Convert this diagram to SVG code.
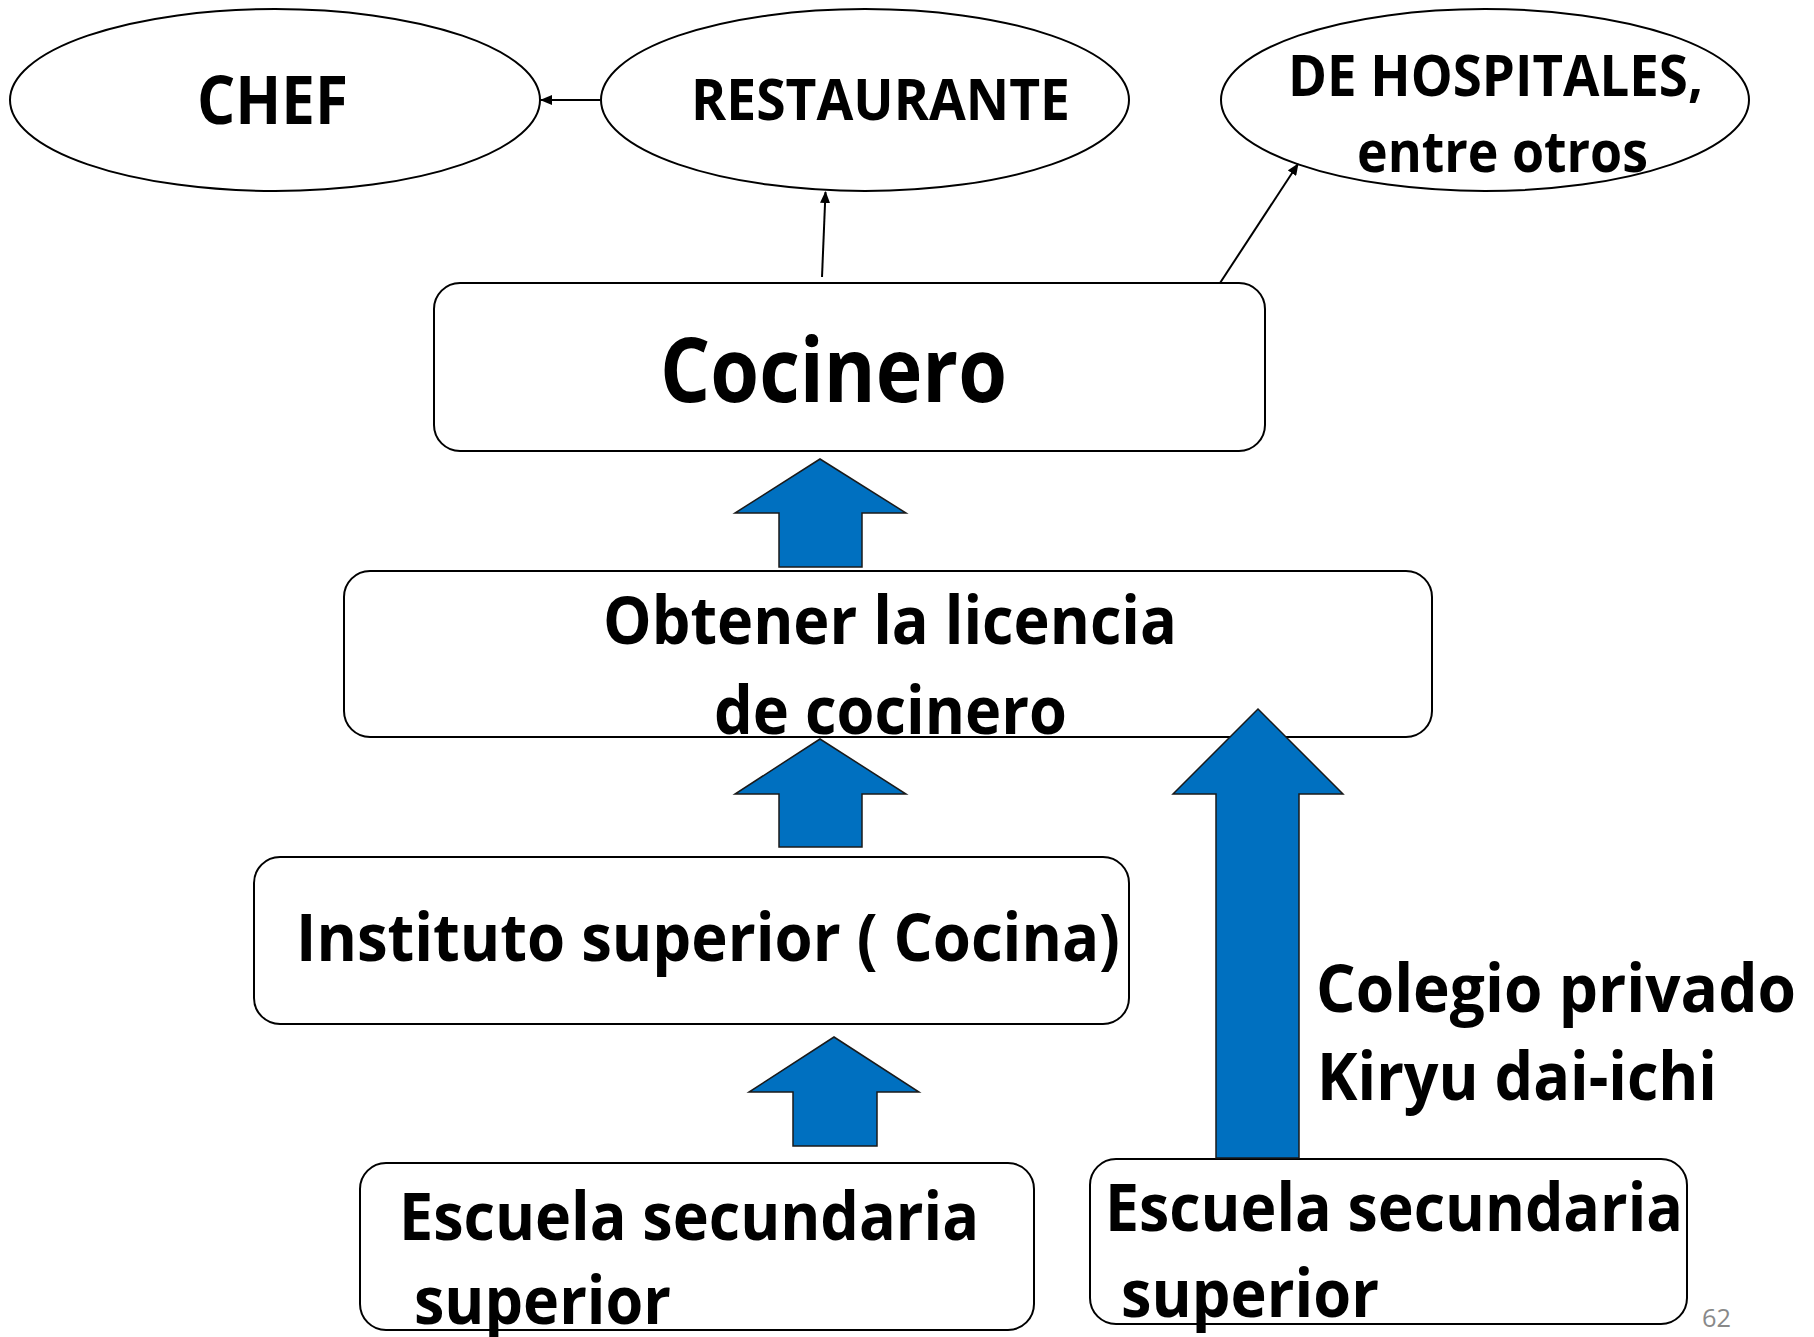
<svg xmlns="http://www.w3.org/2000/svg" width="1814" height="1337" viewBox="0 0 1814 1337">
<style>
.node{fill:#fff;stroke:#000;stroke-width:2}
.t{font-family:"Open Sans","Liberation Sans",sans-serif;font-weight:700;fill:#000}
.blk{fill:#0070C0;stroke:#1a1a1a;stroke-width:1.5}
.con{stroke:#000;stroke-width:2;fill:none}
</style>
<defs>
<marker id="ah" viewBox="0 0 12 10" refX="11" refY="5" markerWidth="12" markerHeight="10" markerUnits="userSpaceOnUse" orient="auto">
<path d="M0,0 L12,5 L0,10 z" fill="#000"/>
</marker>
</defs>
<rect width="1814" height="1337" fill="#fff"/>
<g id="chef">
<ellipse class="node" cx="275" cy="100" rx="265" ry="91"/>
<text class="t" x="197" y="124" font-size="66" textLength="151" lengthAdjust="spacingAndGlyphs">CHEF</text>
</g>
<g id="restaurante">
<ellipse class="node" cx="865" cy="100" rx="264" ry="91"/>
<text class="t" x="691" y="120" font-size="57" textLength="379" lengthAdjust="spacingAndGlyphs">RESTAURANTE</text>
</g>
<g id="hospitales">
<ellipse class="node" cx="1485" cy="100" rx="264" ry="91"/>
<text class="t" x="1288" y="96" font-size="57" textLength="415" lengthAdjust="spacingAndGlyphs">DE HOSPITALES,</text>
<text class="t" x="1357" y="172" font-size="57" textLength="291" lengthAdjust="spacingAndGlyphs">entre otros</text>
</g>
<g id="cocinero">
<rect class="node" x="434" y="283" width="831" height="168" rx="26"/>
<text class="t" x="660" y="402" font-size="90" textLength="347" lengthAdjust="spacingAndGlyphs">Cocinero</text>
</g>
<g id="licencia">
<rect class="node" x="344" y="571" width="1088" height="166" rx="26"/>
<text class="t" x="603" y="644" font-size="67" textLength="574" lengthAdjust="spacingAndGlyphs">Obtener la licencia</text>
<text class="t" x="714" y="734" font-size="67" textLength="353" lengthAdjust="spacingAndGlyphs">de cocinero</text>
</g>
<g id="instituto">
<rect class="node" x="254" y="857" width="875" height="167" rx="26"/>
<text class="t" x="296" y="961" font-size="67" textLength="824" lengthAdjust="spacingAndGlyphs">Instituto superior ( Cocina)</text>
</g>
<g id="escuela-izq">
<rect class="node" x="360" y="1163" width="674" height="167" rx="26"/>
<text class="t" x="399" y="1240" font-size="67" textLength="580" lengthAdjust="spacingAndGlyphs">Escuela secundaria</text>
<text class="t" x="414" y="1324" font-size="67" textLength="257" lengthAdjust="spacingAndGlyphs">superior</text>
</g>
<g id="escuela-der">
<rect class="node" x="1090" y="1159" width="597" height="165" rx="26"/>
<text class="t" x="1105" y="1231" font-size="67" textLength="578" lengthAdjust="spacingAndGlyphs">Escuela secundaria</text>
<text class="t" x="1121" y="1317" font-size="67" textLength="258" lengthAdjust="spacingAndGlyphs">superior</text>
</g>
<g id="connectors">
<line class="con" x1="600" y1="100" x2="541" y2="100" marker-end="url(#ah)"/>
<line class="con" x1="822" y1="277" x2="825.5" y2="192" marker-end="url(#ah)"/>
<line class="con" x1="1220" y1="283" x2="1298" y2="164" marker-end="url(#ah)"/>
<polygon class="blk" points="820,459 906,513 862,513 862,567 779,567 779,513 735,513"/>
<polygon class="blk" points="820,739 906,794 862,794 862,847 779,847 779,794 735,794"/>
<polygon class="blk" points="834,1037 919,1092 877,1092 877,1146 793,1146 793,1092 749,1092"/>
<polygon class="blk" points="1258,709 1343,794 1299,794 1299,1158 1216,1158 1216,794 1173,794"/>
</g>
<g id="kiryu">
<text class="t" x="1316" y="1012" font-size="67" textLength="480" lengthAdjust="spacingAndGlyphs">Colegio privado</text>
<text class="t" x="1317" y="1100" font-size="67" textLength="400" lengthAdjust="spacingAndGlyphs">Kiryu dai-ichi</text>
</g>
<text x="1702" y="1327" font-family="Open Sans, Liberation Sans, sans-serif" font-size="26" fill="#898989" textLength="29" lengthAdjust="spacingAndGlyphs">62</text>
</svg>
